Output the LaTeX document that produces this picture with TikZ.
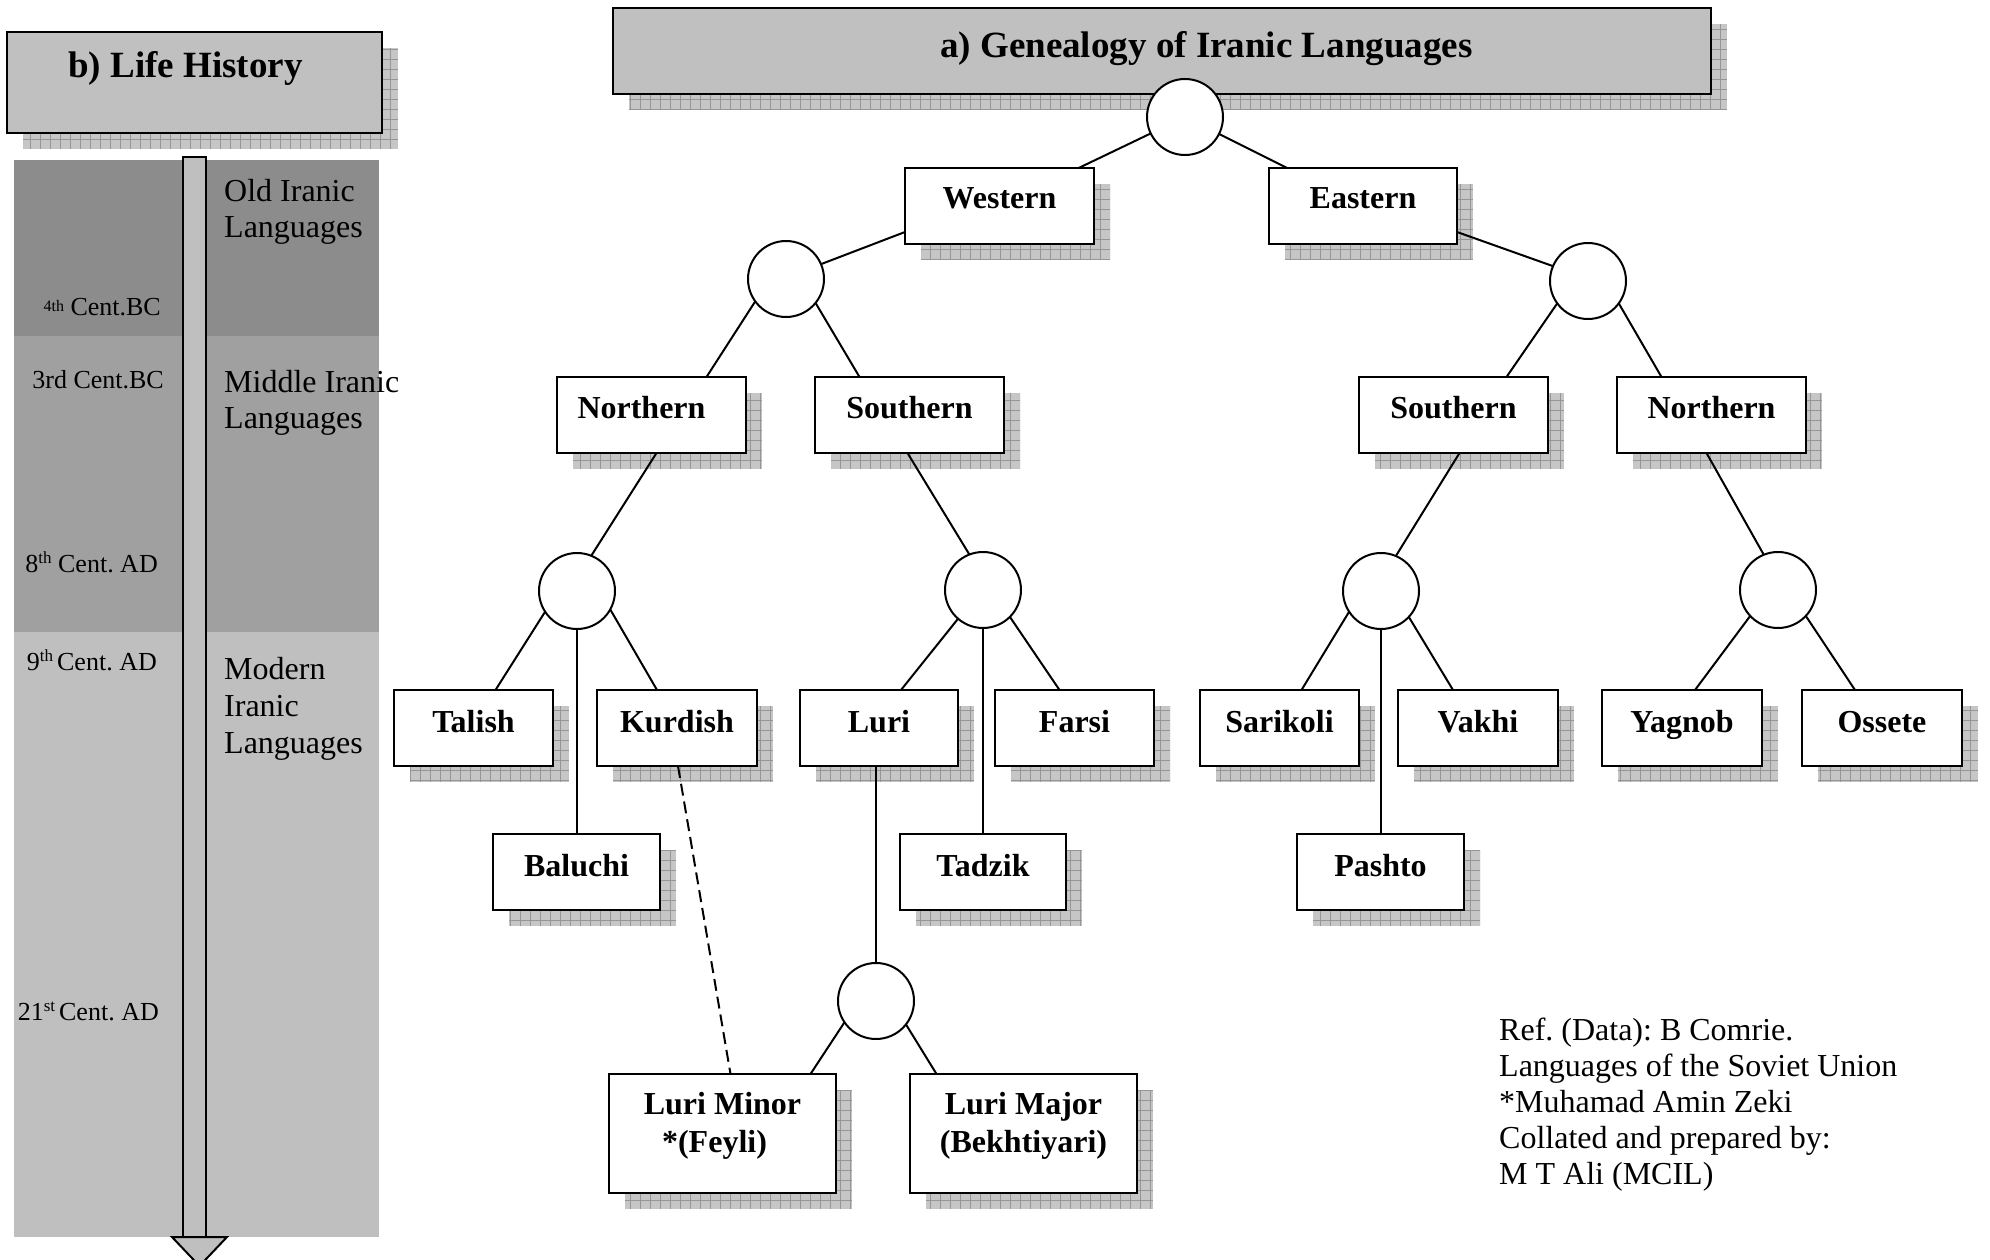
\documentclass[tikz,border=0pt]{standalone}
\usepackage{fontspec}
\setmainfont{Liberation Serif}
\usetikzlibrary{calc}
\pgfdeclarelayer{shadow}
\pgfsetlayers{shadow,main}

\definecolor{bandold}{RGB}{140,140,140}
\definecolor{bandmid}{RGB}{160,160,160}
\definecolor{bandnew}{RGB}{191,191,191}
\definecolor{titlefill}{RGB}{192,192,192}
\definecolor{shadefill}{RGB}{198,198,198}
\definecolor{shadeline}{RGB}{150,150,150}

% raised ordinal suffix (th, st)
\newcommand\ordsup[1]{\raisebox{9pt}{\fontsize{17}{17}\selectfont #1}}

% a box given by its corners (name, x1, y1, x2, y2)
\newcommand\placebox[5]{%
  \node[langbox, minimum width={#4-#2}, minimum height={#5-#3}] (#1) at ({(#2+#4)/2},{(#3+#5)/2}) {};}

% hatched drop shadow behind a named box
\newcommand\dropshadow[1]{%
  \begin{scope}
    \clip ($(#1.north west)+(16,16)$) rectangle ($(#1.south east)+(16,16)$);
    \fill[shadefill] ($(#1.north west)+(16,16)$) rectangle ($(#1.south east)+(16,16)$);
    \draw[shadeline, line width=1, step=10pt] ($(#1.north west)+(16,16)$) grid ($(#1.south east)+(16,16)$);
  \end{scope}}

\tikzset{
  langbox/.style={draw=black, line width=2, fill=white, inner sep=0, outer sep=0},
  headbox/.style={draw=black, line width=2, fill=titlefill, inner sep=0, outer sep=0},
  joint/.style={circle, draw=black, line width=2, fill=white, minimum size=76, inner sep=0, outer sep=0},
  link/.style={line width=2},
  boxlabel/.style={anchor=base, inner sep=0, font=\fontsize{32}{37}\selectfont\bfseries},
  headlabel/.style={anchor=base west, inner sep=0, font=\fontsize{37}{42}\selectfont\bfseries},
  paneltext/.style={anchor=base west, inner sep=0, font=\fontsize{32}{37}\selectfont},
  datetext/.style={anchor=base east, inner sep=0, font=\fontsize{26}{30}\selectfont},
  notetext/.style={anchor=base west, inner sep=0, font=\fontsize{32}{36}\selectfont},
}

\begin{document}
\frenchspacing
\begin{tikzpicture}[x=1pt, y=-1pt]
\useasboundingbox (0,0) rectangle (1990,1260);

% ---------- b) Life History ----------
\fill[bandold] (14,160) rectangle (379,336);
\fill[bandmid] (14,336) rectangle (379,632);
\fill[bandnew] (14,632) rectangle (379,1237);
\filldraw[fill=bandnew, draw=black, line width=2] (183,157) rectangle (206,1237);
\filldraw[fill=bandnew, draw=black, line width=2, line join=miter] (172,1237) -- (227,1237) -- (199.5,1266) -- cycle;

\node[headbox, minimum width=375, minimum height=101] (lifebox) at (194.5,82.5) {};
\node[headlabel] (lifetitle) at (68,78) {b) Life History};

\node[paneltext] (old1) at (224,202) {Old Iranic};
\node[paneltext] (old2) at (224,238) {Languages};
\node[datetext] (d4bc) at (161,315) {\raisebox{3pt}{\fontsize{16}{16}\selectfont 4th} Cent.BC};
\node[datetext] (d3bc) at (164,388) {3rd Cent.BC};
\node[paneltext] (mid1) at (224,392) {Middle Iranic};
\node[paneltext] (mid2) at (224,428) {Languages};
\node[datetext] (d8ad) at (158,572) {8\ordsup{th} Cent. AD};
\node[datetext] (d9ad) at (157,670) {9\ordsup{th}\hspace{4pt}Cent. AD};
\node[paneltext] (mod1) at (224,679) {Modern};
\node[paneltext] (mod2) at (224,716) {Iranic};
\node[paneltext] (mod3) at (224,753) {Languages};
\node[datetext] (d21ad) at (159,1020) {21\ordsup{st}\hspace{4pt}Cent. AD};

% ---------- a) Genealogy of Iranic Languages ----------
\node[headbox, minimum width=1098, minimum height=86] (genebox) at (1162,51) {};
\node[headlabel] (genetitle) at (940,58) {a) Genealogy of Iranic Languages};

\placebox{west}{905}{168}{1094}{244}
\placebox{east}{1269}{168}{1457}{244}
\placebox{nW}{557}{377}{746}{453}
\placebox{sW}{815}{377}{1004}{453}
\placebox{sE}{1359}{377}{1548}{453}
\placebox{nE}{1617}{377}{1806}{453}
\placebox{talish}{394}{690}{553}{766}
\placebox{kurdish}{597}{690}{757}{766}
\placebox{luri}{800}{690}{958}{766}
\placebox{farsi}{995}{690}{1154}{766}
\placebox{sarikoli}{1200}{690}{1359}{766}
\placebox{vakhi}{1398}{690}{1558}{766}
\placebox{yagnob}{1602}{690}{1762}{766}
\placebox{ossete}{1802}{690}{1962}{766}
\placebox{baluchi}{493}{834}{660}{910}
\placebox{tadzik}{900}{834}{1066}{910}
\placebox{pashto}{1297}{834}{1464}{910}
\placebox{lmin}{609}{1074}{836}{1193}
\placebox{lmaj}{910}{1074}{1137}{1193}

\node[boxlabel] (west-t) at ($(west.north)+(0,41)$) {Western};
\node[boxlabel] (east-t) at ($(east.north)+(0,41)$) {Eastern};
\node[boxlabel] (nW-t) at ($(nW.north)+(-10,41)$) {Northern};
\node[boxlabel] (sW-t) at ($(sW.north)+(0,41)$) {Southern};
\node[boxlabel] (sE-t) at ($(sE.north)+(0,41)$) {Southern};
\node[boxlabel] (nE-t) at ($(nE.north)+(0,41)$) {Northern};
\node[boxlabel] (talish-t) at ($(talish.north)+(0,42)$) {Talish};
\node[boxlabel] (kurdish-t) at ($(kurdish.north)+(0,42)$) {Kurdish};
\node[boxlabel] (luri-t) at ($(luri.north)+(0,42)$) {Luri};
\node[boxlabel] (farsi-t) at ($(farsi.north)+(0,42)$) {Farsi};
\node[boxlabel] (sarikoli-t) at ($(sarikoli.north)+(0,42)$) {Sarikoli};
\node[boxlabel] (vakhi-t) at ($(vakhi.north)+(0,42)$) {Vakhi};
\node[boxlabel] (yagnob-t) at ($(yagnob.north)+(0,42)$) {Yagnob};
\node[boxlabel] (ossete-t) at ($(ossete.north)+(0,42)$) {Ossete};
\node[boxlabel] (baluchi-t) at ($(baluchi.north)+(0,42)$) {Baluchi};
\node[boxlabel] (tadzik-t) at ($(tadzik.north)+(0,42)$) {Tadzik};
\node[boxlabel] (pashto-t) at ($(pashto.north)+(0,42)$) {Pashto};
\node[boxlabel] (lmin-t1) at ($(lmin.north)+(0,40)$) {Luri Minor};
\node[boxlabel] (lmin-t2) at ($(lmin.north)+(-8,78)$) {*(Feyli)};
\node[boxlabel] (lmaj-t1) at ($(lmaj.north)+(0,40)$) {Luri Major};
\node[boxlabel] (lmaj-t2) at ($(lmaj.north)+(0,78)$) {(Bekhtiyari)};

% branching points
\node[joint] (root) at (1185,117) {};
\node[joint] (cW) at (786,279) {};
\node[joint] (cE) at (1588,281) {};
\node[joint] (cNW) at (577,591) {};
\node[joint] (cSW) at (983,590) {};
\node[joint] (cSE) at (1381,591) {};
\node[joint] (cNE) at (1778,590) {};
\node[joint] (cL) at (876,1001) {};

% connectors
\draw[link] (root) -- (west);
\draw[link] (root) -- (east);
\draw[link] ($(west.south west)+(0,-12)$) -- (cW.23);
\draw[link] ($(east.south east)+(0,-12)$) -- (cE.157);
\draw[link] (cW.216) -- ($(nW.north)+(55,0)$);
\draw[link] (cW.321) -- ($(sW.north)+(-50,0)$);
\draw[link] (cE.216) -- ($(sE.north)+(53,0)$);
\draw[link] (cE.324) -- ($(nE.north)+(-50,0)$);
\draw[link] ($(nW.south)+(5,0)$) -- (cNW.68);
\draw[link] ($(sW.south)+(-2,0)$) -- (cSW.111);
\draw[link] ($(sE.south)+(6,0)$) -- (cSE.67);
\draw[link] ($(nE.south)+(-5,0)$) -- (cNE.112);
\draw[link] (cNW.213) -- ($(talish.north)+(22,0)$);
\draw[link] (cNW.south) -- (cNW.south |- baluchi.north);
\draw[link] (cNW.331) -- ($(kurdish.north)+(-20,0)$);
\draw[link] (cSW.229) -- ($(luri.north)+(22,0)$);
\draw[link] (cSW.south) -- (cSW.south |- tadzik.north);
\draw[link] (cSW.315) -- ($(farsi.north)+(-15,0)$);
\draw[link] (cSE.213) -- ($(sarikoli.north)+(22,0)$);
\draw[link] (cSE.south) -- (cSE.south |- pashto.north);
\draw[link] (cSE.317) -- ($(vakhi.north)+(-25,0)$);
\draw[link] (cNE.223) -- ($(yagnob.north)+(13,0)$);
\draw[link] (cNE.317) -- ($(ossete.north)+(-27,0)$);
\draw[link] (cL.north) -- (cL.north |- luri.south);
\draw[link] (cL.214) -- ($(lmin.north)+(88,0)$);
\draw[link] (cL.322) -- ($(lmaj.north)+(-87,0)$);
\draw[link, dash pattern=on 12pt off 6pt] ($(kurdish.south)+(1,0)$) -- ($(lmin.north)+(8,0)$);

% source note
\node[notetext] (note1) at (1499,1040) {Ref. (Data): B Comrie.};
\node[notetext] (note2) at (1499,1076) {Languages of the Soviet Union};
\node[notetext] (note3) at (1499,1112) {*Muhamad Amin Zeki};
\node[notetext] (note4) at (1499,1148) {Collated and prepared by:};
\node[notetext] (note5) at (1499,1184) {M T Ali (MCIL)};

% drop shadows
\begin{pgfonlayer}{shadow}
  \foreach \n in {lifebox,genebox,west,east,nW,sW,sE,nE,talish,kurdish,luri,farsi,sarikoli,vakhi,yagnob,ossete,baluchi,tadzik,pashto,lmin,lmaj}
    {\dropshadow{\n}}
\end{pgfonlayer}
\end{tikzpicture}
\end{document}
